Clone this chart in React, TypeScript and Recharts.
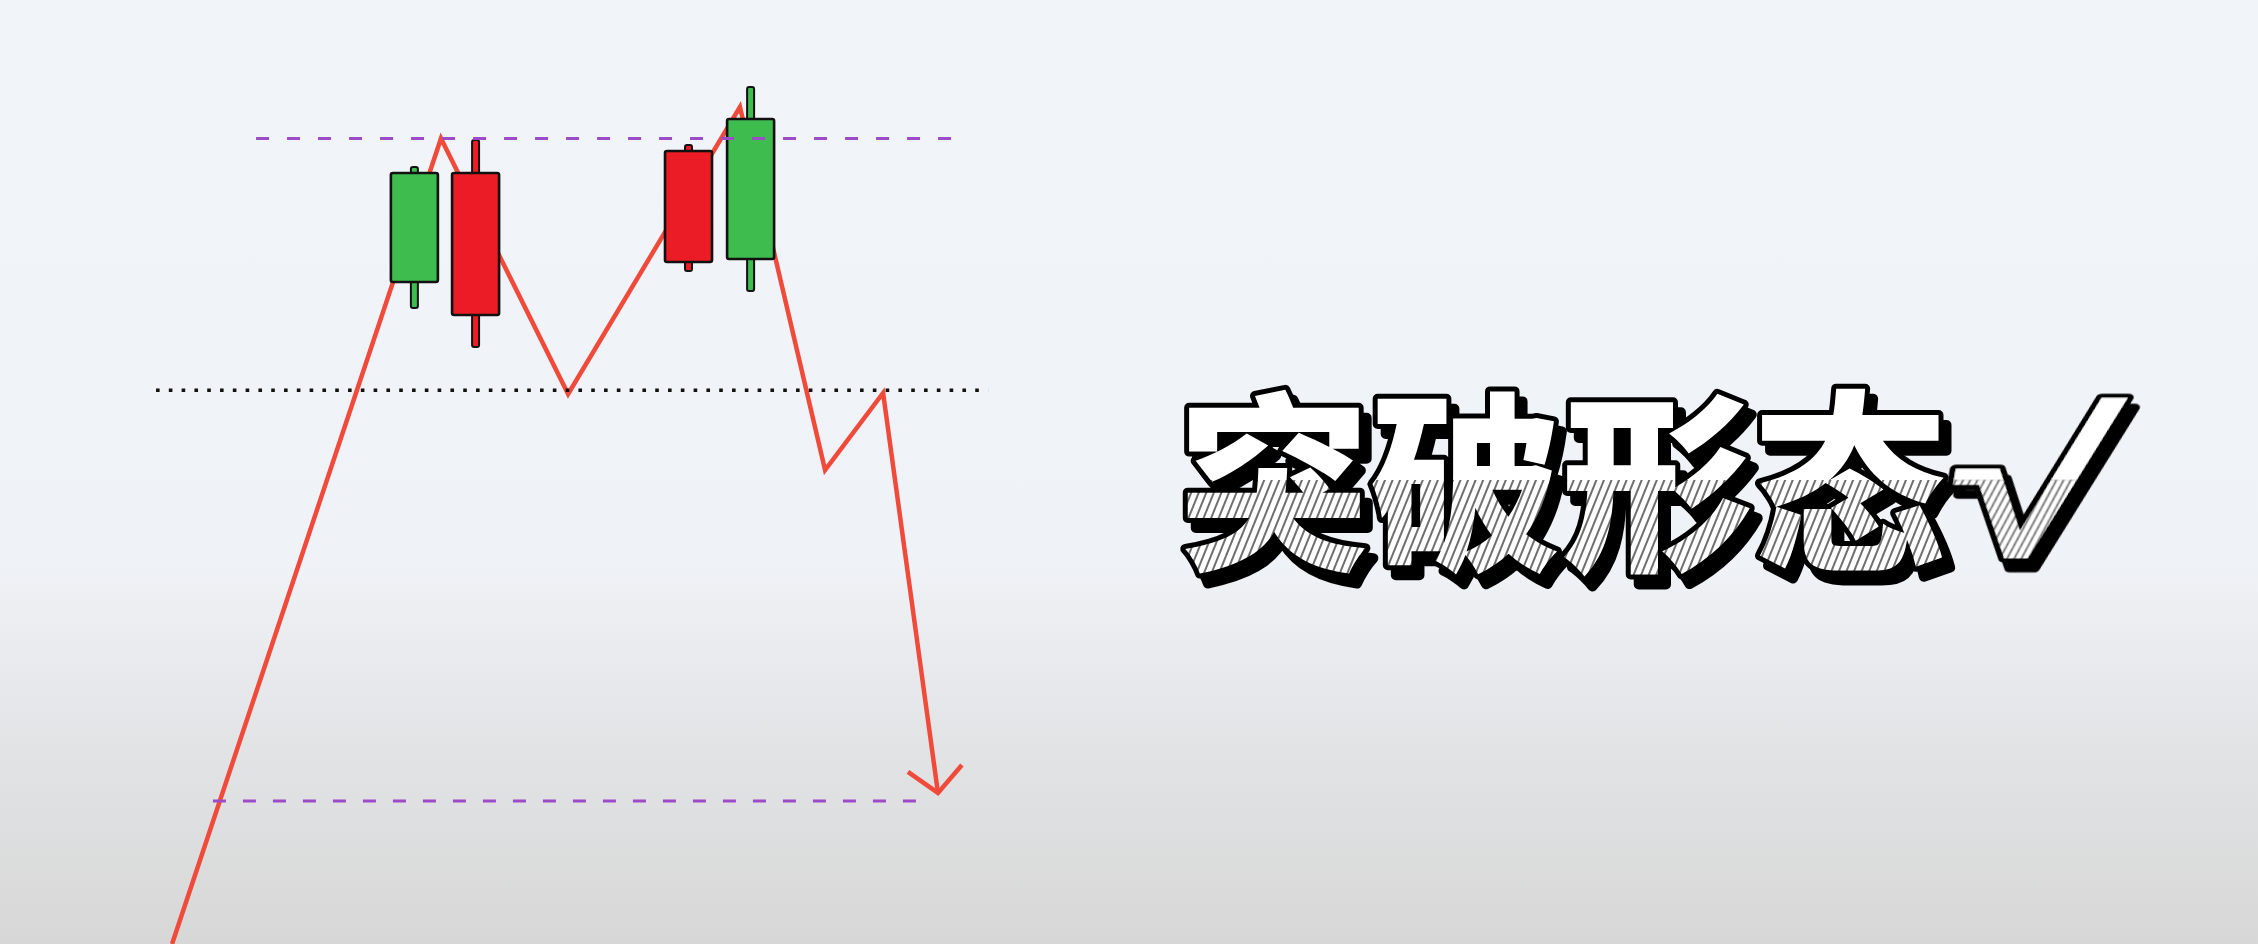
import React from 'react';
import { ComposedChart, XAxis, YAxis, Line, Bar, ReferenceLine, Customized } from 'recharts';

// ---- candles (time in % of width, price units) ----
const candleTime = [18.33, 21.04, 30.47, 33.22];
const candleOpen = [108.6, 117.26, 119.0, 110.42];
const candleClose = [117.26, 105.97, 110.18, 121.55];
const candleHigh = [117.73, 119.88, 119.48, 124.09];
const candleLow = [106.53, 103.43, 109.47, 107.88];

// ---- price path (zig-zag) ----
const pathTime = [7.62, 19.53, 25.16, 32.77, 36.54, 39.11, 41.54];
const pathPrice = [56.0, 120.0, 99.7, 122.5, 93.66, 99.78, 68.0];

// ---- arrow head at the end of the path ----
const arrowTime = [40.21, 41.54, 42.6];
const arrowPrice = [69.67, 68.0, 70.22];

// ---- horizontal levels ----
const resistancePrice = 120.0;
const resistanceSpan = [11.34, 42.87];
const necklinePrice = 100.0;
const necklineSpan = [6.91, 43.76];
const targetPrice = 67.36;
const targetSpan = [9.43, 40.92];

const titleText = '突破形态';
const titleMark = '√';

const GREEN = '#3fbc4e';
const RED = '#ec1c26';
const LINE = '#ef4a3a';
const PURPLE = '#9c4cc6';
const BODY_W = 47;
const WICK_W = 7;

const candleData = candleTime.map((t, i) => ({
  t,
  open: candleOpen[i],
  close: candleClose[i],
  high: candleHigh[i],
  low: candleLow[i],
  range: [candleLow[i], candleHigh[i]],
}));
const pathData = pathTime.map((t, i) => ({ t, v: pathPrice[i] }));
const arrowData = arrowTime.map((t, i) => ({ t, v: arrowPrice[i] }));

const CandleShape = (props: any) => {
  const { x, y, width, height, payload } = props;
  if (x == null || y == null) return null;
  const top = Math.min(y, y + height);
  const h = Math.abs(height);
  const { open, close, high, low } = payload;
  const ratio = h / (high - low);
  const bodyTop = top + (high - Math.max(open, close)) * ratio;
  const bodyBot = top + (high - Math.min(open, close)) * ratio;
  const color = close >= open ? GREEN : RED;
  const cx = x + width / 2;
  return (
    <g>
      <rect x={cx - WICK_W / 2} y={top} width={WICK_W} height={h} fill={color} stroke="#111" strokeWidth={2} rx={2} />
      <rect x={cx - BODY_W / 2} y={bodyTop} width={BODY_W} height={bodyBot - bodyTop} fill={color} stroke="#111" strokeWidth={2.6} rx={2} />
    </g>
  );
};

const TX = 1178;
const TY = 556;
const HATCH_Y = 480;
const MX = 1940;
const MSX = 1.45;

const Title = () => (
  <g>
    <defs>
      <pattern id="hatch" width="7" height="7" patternUnits="userSpaceOnUse" patternTransform="rotate(22)">
        <rect width="7" height="7" fill="#ffffff" />
        <line x1="1" y1="0" x2="1" y2="7" stroke="#4a4a4a" strokeWidth="1.6" />
      </pattern>
      <pattern id="titleFill" x="0" y="0" width="2258" height="944" patternUnits="userSpaceOnUse">
        <rect x="0" y="0" width="2258" height={HATCH_Y} fill="#ffffff" />
        <rect x="0" y={HATCH_Y} width="2258" height={944 - HATCH_Y} fill="url(#hatch)" />
      </pattern>
      <pattern id="markHatch" width="4.8" height="7" patternUnits="userSpaceOnUse" patternTransform="rotate(14)">
        <rect width="4.8" height="7" fill="#ffffff" />
        <line x1="0.6" y1="0" x2="0.6" y2="7" stroke="#4a4a4a" strokeWidth="1.1" />
      </pattern>
      <pattern id="markFill" x="-200" y="-400" width="600" height="800" patternUnits="userSpaceOnUse">
        <rect x="0" y="0" width="600" height={400 + HATCH_Y - TY} fill="#ffffff" />
        <rect x="0" y={400 + HATCH_Y - TY} width="600" height="400" fill="url(#markHatch)" />
      </pattern>
      <filter id="titleShadow" x="-10%" y="-20%" width="130%" height="150%">
        <feDropShadow dx="8" dy="10" stdDeviation="0" floodColor="#000" floodOpacity="1" />
      </filter>
      <filter id="markShadow" x="-30%" y="-20%" width="170%" height="150%">
        <feDropShadow dx="5.5" dy="10" stdDeviation="0" floodColor="#000" floodOpacity="1" />
      </filter>
    </defs>
    <text
      x={TX}
      y={TY}
      textAnchor="start"
      fontSize={192}
      fontWeight={900}
      style={{ fontFamily: "'Noto Sans CJK SC', 'Noto Sans CJK JP', sans-serif", paintOrder: 'stroke' }}
      fill="url(#titleFill)"
      stroke="#000"
      strokeWidth={10}
      strokeLinejoin="round"
      filter="url(#titleShadow)"
    >
      {titleText}
    </text>
    <g transform={`translate(${MX}, ${TY}) skewX(-10) scale(${MSX}, 1)`}>
      <text
        x={0}
        y={0}
        textAnchor="start"
        fontSize={200}
        fontWeight={700}
        style={{ fontFamily: "'Liberation Sans', 'DejaVu Sans', sans-serif", paintOrder: 'stroke' }}
        fill="url(#markFill)"
        stroke="#000"
        strokeWidth={8}
        strokeLinejoin="round"
        filter="url(#markShadow)"
      >
        {titleMark}
      </text>
    </g>
  </g>
);

export default function App() {
  return (
    <div
      style={{
        position: 'absolute',
        left: 0,
        top: 0,
        width: 2258,
        height: 944,
        background: 'linear-gradient(to bottom, #f1f4f8 0%, #eff2f6 60%, #e3e4e6 78%, #d7d7d7 100%)',
        overflow: 'hidden',
      }}
    >
      <ComposedChart width={2258} height={944} data={candleData} margin={{ top: 0, right: 0, bottom: 0, left: 0 }}>
        <XAxis type="number" dataKey="t" domain={[0, 100]} allowDataOverflow hide />
        <YAxis type="number" domain={[56, 131]} allowDataOverflow hide />
        <ReferenceLine
          segment={[{ x: resistanceSpan[0], y: resistancePrice }, { x: resistanceSpan[1], y: resistancePrice }]}
          stroke={PURPLE}
          strokeWidth={3}
          strokeDasharray="13 18"
          ifOverflow="visible"
        />
        <ReferenceLine
          segment={[{ x: necklineSpan[0], y: necklinePrice }, { x: necklineSpan[1], y: necklinePrice }]}
          stroke="#111"
          strokeWidth={3.6}
          strokeDasharray="3.6 9.2"
          ifOverflow="visible"
        />
        <ReferenceLine
          segment={[{ x: targetSpan[0], y: targetPrice }, { x: targetSpan[1], y: targetPrice }]}
          stroke={PURPLE}
          strokeWidth={3}
          strokeDasharray="13 17"
          ifOverflow="visible"
        />
        <Line
          data={pathData}
          dataKey="v"
          type="linear"
          stroke={LINE}
          strokeWidth={4.5}
          dot={false}
          activeDot={false}
          isAnimationActive={false}
          zIndex={250}
        />
        <Line
          data={arrowData}
          dataKey="v"
          type="linear"
          stroke={LINE}
          strokeWidth={4.5}
          dot={false}
          activeDot={false}
          isAnimationActive={false}
          zIndex={250}
        />
        <Bar dataKey="range" barSize={47} shape={CandleShape} isAnimationActive={false} zIndex={300} />
        <Customized component={Title} />
      </ComposedChart>
    </div>
  );
}
